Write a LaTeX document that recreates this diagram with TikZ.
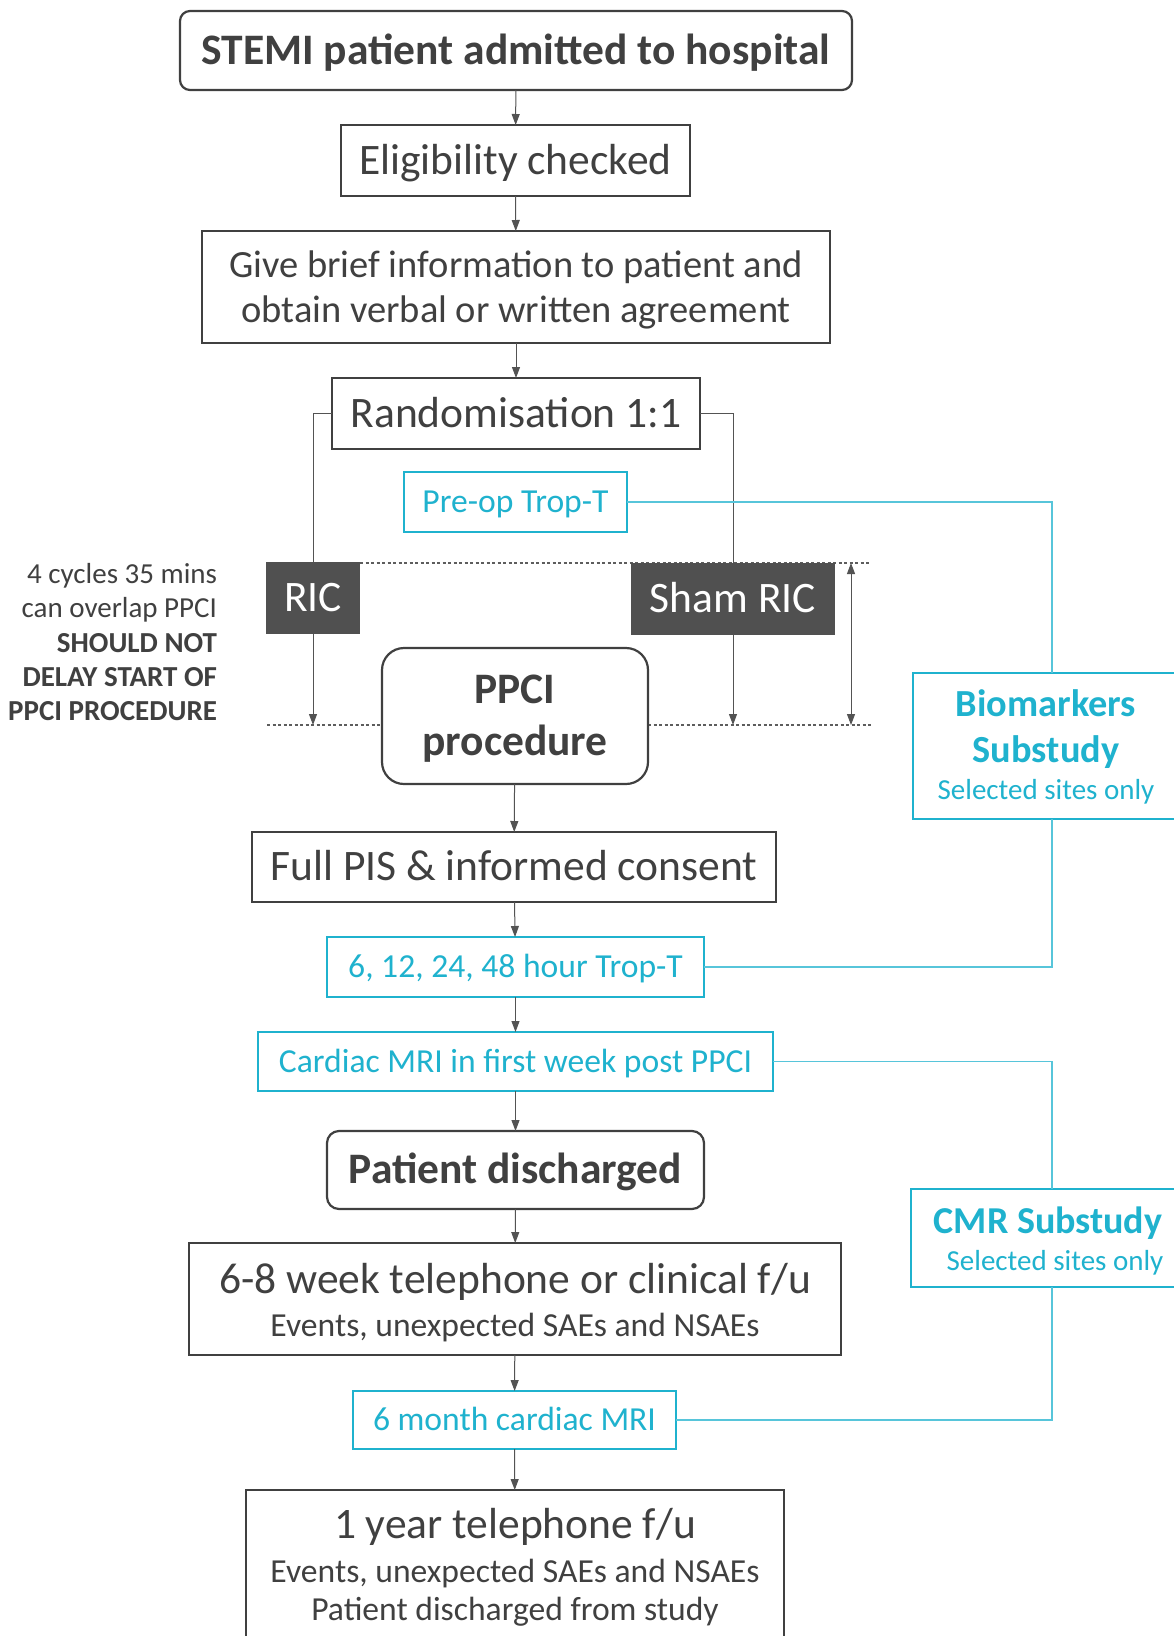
\documentclass[tikz,border=0pt]{standalone}
\usepackage{fontspec}
\setmainfont{Carlito}
\usetikzlibrary{arrows.meta}
\definecolor{txt}{HTML}{404040}
\definecolor{cy}{HTML}{1FB2CE}
\definecolor{dk}{HTML}{505050}
\newcommand\fsz[1]{\fontsize{#1}{#1}\selectfont}
\begin{document}
\begin{tikzpicture}[x=1pt,y=-1pt,
  box/.style={draw=txt, line width=2.2pt, fill=white, text=txt, inner sep=0pt, outer sep=0pt},
  cbox/.style={draw=cy, line width=2pt, fill=white, text=cy, inner sep=0pt, outer sep=0pt},
  dbox/.style={fill=dk, text=white, inner sep=0pt, outer sep=0pt},
  big/.style={font=\fsz{43.5}, text height=27.5pt, text depth=0pt},
  bigb/.style={font=\bfseries\fsz{43.5}, text height=27.5pt, text depth=0pt},
  cyt/.style={font=\fsz{33.6}, text height=21.2pt, text depth=0pt},
  tx/.style={text=txt, inner sep=0pt, outer sep=0pt, anchor=base},
  ctx/.style={text=cy, inner sep=0pt, outer sep=0pt, anchor=base},
  lbl/.style={text=txt, inner sep=0pt, outer sep=0pt, anchor=base east, font=\fsz{29}},
  arr/.style={draw=txt!90, line width=1pt, -{Triangle[length=11pt,width=8pt]}},
  darr/.style={draw=txt!90, line width=1pt, {Triangle[length=11pt,width=8pt]}-{Triangle[length=11pt,width=8pt]}},
  conn/.style={draw=txt!90, line width=1pt},
  cconn/.style={draw=cy!75, line width=1.1pt},
  dotline/.style={draw=txt!85, line width=1.1pt, dash pattern=on 3pt off 2.5pt}
]
\useasboundingbox (0,0) rectangle (1174,1636);
\fill[white] (0,0) rectangle (1174,1636);

% coordinates for dashed guide lines
\coordinate (dr) at (360,563);
\coordinate (dt) at (871,563);
\coordinate (db) at (871,725);
\coordinate (dl) at (267,725);
\coordinate (dpl) at (382,725);
\coordinate (dpr) at (648,725);
\coordinate (da) at (851,563);

% dashed guides
\draw[dotline] (dr) -- (dt);
\draw[dotline] (dl) -- (dpl);
\draw[dotline] (dpr) -- (db);

% main boxes
\node[box, bigb, rounded corners=10pt, minimum width=672pt, minimum height=79pt] (stemi) at (516,50.5) {STEMI patient admitted to hospital};
\node[box, big, minimum width=349pt, minimum height=71pt] (elig) at (515.5,160.5) {Eligibility checked};
\node[box, minimum width=628pt, minimum height=112pt] (give) at (516,287) {};
\node[tx, font=\fsz{38.5}] (give1) at (516,277) {Give brief information to patient and};
\node[tx, font=\fsz{38.5}] (give2) at (516,322) {obtain verbal or written agreement};
\node[box, big, minimum width=368pt, minimum height=71pt] (rand) at (516,413.5) {Randomisation 1:1};

\node[cbox, cyt, minimum width=223pt, minimum height=60pt] (preop) at (515.5,502) {Pre-op Trop-T};

\node[dbox, big, minimum width=94pt, minimum height=72pt] (ric) at (313,598) {RIC};
\node[dbox, big, minimum width=204pt, minimum height=72pt] (sham) at (733,599) {Sham RIC};

\node[box, rounded corners=22pt, minimum width=266pt, minimum height=136pt] (ppci) at (515,716) {};
\node[tx, font=\bfseries\fsz{43.5}] (ppci1) at (515,703) {PPCI};
\node[tx, font=\bfseries\fsz{43.5}] (ppci2) at (515,755) {procedure};

\node[box, big, minimum width=524pt, minimum height=70pt] (full) at (514,867) {Full PIS \& informed consent};
\node[cbox, cyt, minimum width=377pt, minimum height=60pt] (trop) at (515.5,967) {6, 12, 24, 48 hour Trop-T};
\node[cbox, cyt, minimum width=515pt, minimum height=59pt] (cmri) at (515.5,1061.5) {Cardiac MRI in first week post PPCI};
\node[box, bigb, rounded corners=12pt, minimum width=377pt, minimum height=78pt] (disch) at (515.5,1170) {Patient discharged};

\node[box, minimum width=652pt, minimum height=112pt] (wk) at (515,1299) {};
\node[tx, font=\fsz{43.5}] (wk1) at (515,1293) {6-8 week telephone or clinical f/u};
\node[tx, font=\fsz{33.6}] (wk2) at (515,1336) {Events, unexpected SAEs and NSAEs};

\node[cbox, cyt, minimum width=323pt, minimum height=58pt] (sixm) at (514.5,1420) {6 month cardiac MRI};

\node[box, minimum width=538pt, minimum height=170pt] (year) at (515,1575) {};
\node[tx, font=\fsz{43.5}] (year1) at (515,1538) {1 year telephone f/u};
\node[tx, font=\fsz{33.6}] (year2) at (515,1582) {Events, unexpected SAEs and NSAEs};
\node[tx, font=\fsz{33.6}] (year3) at (515,1620) {Patient discharged from study};

% substudy boxes
\node[cbox, minimum width=278pt, minimum height=146pt] (bio) at (1052,746) {};
\node[ctx, font=\bfseries\fsz{38.3}] (bio1) at (1046,716) {Biomarkers};
\node[ctx, font=\bfseries\fsz{38.3}] (bio2) at (1046,762) {Substudy};
\node[ctx, font=\fsz{29}] (bio3) at (1046,799) {Selected sites only};

\node[cbox, minimum width=282pt, minimum height=98pt] (cmr) at (1052,1238) {};
\node[ctx, font=\bfseries\fsz{38}] (cmr1) at (1048,1233) {CMR Substudy};
\node[ctx, font=\fsz{29}] (cmr2) at (1055,1270) {Selected sites only};

% left note
\node[lbl] (n1) at (217,583) {4 cycles 35 mins};
\node[lbl] (n2) at (217,617) {can overlap PPCI};
\node[lbl, font=\bfseries\fsz{29}] (n3) at (217,652) {SHOULD NOT};
\node[lbl, font=\bfseries\fsz{29}] (n4) at (217,686) {DELAY START OF};
\node[lbl, font=\bfseries\fsz{29}] (n5) at (217,720) {PPCI PROCEDURE};

% connectors
\draw[arr] (stemi) -- (elig);
\draw[arr] (elig) -- (give);
\draw[arr] (give) -- (rand);
\draw[conn] (rand.west) -| (ric.north);
\draw[conn] (rand.east) -| (sham.north);
\draw[arr] (ric.south) -- (ric.south |- dl);
\draw[arr] (sham.south) -- (sham.south |- db);
\draw[darr] (da) -- (da |- db);
\draw[arr] (ppci) -- (full);
\draw[arr] (full) -- (trop);
\draw[arr] (trop) -- (cmri);
\draw[arr] (cmri) -- (disch);
\draw[arr] (disch) -- (wk);
\draw[arr] (wk) -- (sixm);
\draw[arr] (sixm) -- (year);

\draw[cconn] (preop.east) -| (bio.north);
\draw[cconn] (trop.east) -| (bio.south);
\draw[cconn] (cmri.east) -| (cmr.north);
\draw[cconn] (sixm.east) -| (cmr.south);
\end{tikzpicture}
\end{document}
